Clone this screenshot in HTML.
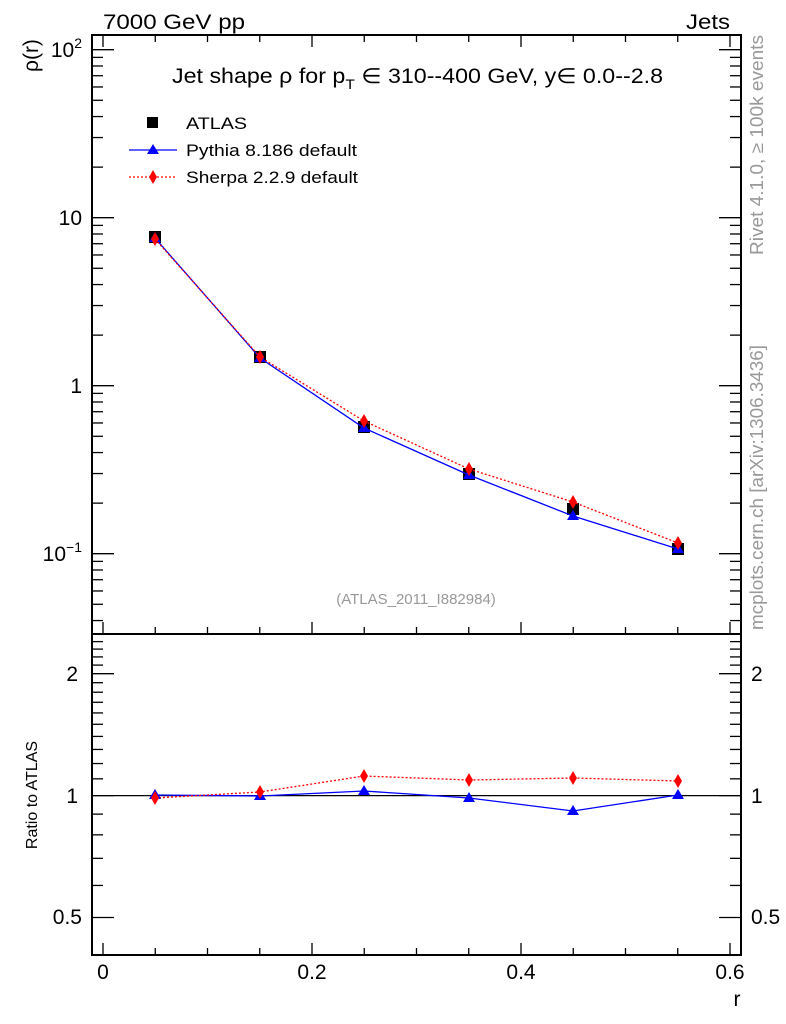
<!DOCTYPE html>
<html><head><meta charset="utf-8"><style>
html,body{margin:0;padding:0;background:#fff;}
svg{display:block;font-family:"Liberation Sans",sans-serif;}
</style></head><body>
<svg id="s" width="786" height="1024" viewBox="0 0 786 1024" xmlns="http://www.w3.org/2000/svg">
<rect width="786" height="1024" fill="#fff"/>
<g id="ticks" stroke="#000" stroke-width="1.3" fill="none"></g>
<rect x="92" y="35" width="649" height="920" fill="none" stroke="#000" stroke-width="2"/>
<line x1="92" y1="634" x2="741" y2="634" stroke="#000" stroke-width="2"/>
<line x1="92" y1="795.6" x2="741" y2="795.6" stroke="#000" stroke-width="1.2"/>
<text x="103" y="29" font-size="21" textLength="142" lengthAdjust="spacingAndGlyphs">7000 GeV pp</text>
<text x="686" y="29" font-size="21" textLength="44" lengthAdjust="spacingAndGlyphs">Jets</text>
<text font-size="21" transform="translate(38 72) rotate(-90)">ρ(r)</text>
<text x="172" y="83" font-size="21" textLength="491" lengthAdjust="spacingAndGlyphs">Jet shape ρ for p<tspan font-size="14" dy="6">T</tspan><tspan dy="-6"> ∈ 310--400 GeV, y∈ 0.0--2.8</tspan></text>
<rect x="147" y="117" width="11" height="11" fill="#000"/>
<text x="186" y="129" font-size="17" textLength="61" lengthAdjust="spacingAndGlyphs">ATLAS</text>
<line x1="129" y1="150" x2="177" y2="150" stroke="#00f" stroke-width="1.3"/>
<polygon points="153,144 159,154 147,154" fill="#00f"/>
<text x="186" y="156" font-size="17" textLength="171" lengthAdjust="spacingAndGlyphs">Pythia 8.186 default</text>
<line x1="129" y1="177" x2="177" y2="177" stroke="#f00" stroke-width="1.3" stroke-dasharray="2,2"/>
<polygon points="153,170 157,177 153,184 149,177" fill="#f00"/>
<text x="186" y="183" font-size="17" textLength="172" lengthAdjust="spacingAndGlyphs">Sherpa 2.2.9 default</text>
<text x="416" y="604" font-size="15" fill="#999" text-anchor="middle">(ATLAS_2011_I882984)</text>
<text font-size="18" fill="#999" transform="translate(763 255) rotate(-90)" textLength="220" lengthAdjust="spacingAndGlyphs">Rivet 4.1.0, ≥ 100k events</text>
<text font-size="18" fill="#999" transform="translate(763 630) rotate(-90)" textLength="285" lengthAdjust="spacingAndGlyphs">mcplots.cern.ch [arXiv:1306.3436]</text>
<g font-size="21">
<text x="82" y="57" text-anchor="end">10<tspan font-size="14" dy="-9">2</tspan></text>
<text x="82" y="225" text-anchor="end">10</text>
<text x="82" y="393" text-anchor="end">1</text>
<text x="82" y="561" text-anchor="end">10<tspan font-size="14" dy="-9">−1</tspan></text>
<text x="78" y="681" text-anchor="end">2</text>
<text x="78" y="803" text-anchor="end">1</text>
<text x="82" y="924" text-anchor="end">0.5</text>
<text x="751" y="681">2</text>
<text x="751" y="803">1</text>
<text x="751" y="924">0.5</text>
<text x="103" y="979" text-anchor="middle">0</text>
<text x="312" y="979" text-anchor="middle">0.2</text>
<text x="521" y="979" text-anchor="middle">0.4</text>
<text x="730" y="979" text-anchor="middle">0.6</text>
<text x="737" y="1006" text-anchor="middle">r</text>
</g>
<text font-size="16" transform="translate(37 795) rotate(-90)" text-anchor="middle">Ratio to ATLAS</text>
<g id="data"></g>
</svg>
<script>
var T=document.getElementById('ticks'),D=document.getElementById('data'),h='';
function L(a,b,c,d){h+='<line x1="'+a+'" y1="'+b+'" x2="'+c+'" y2="'+d+'"/>';}
for(var i=0;i<=12;i++){var x=103+i*0.05*1045,l=(i%4==0)?12:7;L(x,955,x,955-l);L(x,634,x,634-l);L(x,35,x,35+l);}
var yl=function(v){return 385.7-168*Math.log10(v);};
for(var e=-2;e<=2;e++)for(var m=1;m<10;m++){var y=yl(m*Math.pow(10,e));if(y<35||y>634)continue;var l=m==1?22:11;L(92,y,92+l,y);L(741,y,741-l,y);}
var yr=function(v){return 795.6-405*Math.log10(v);};
for(var v=0.4;v<=2.45;v+=0.1){var y=yr(v);if(y<634||y>955)continue;var mj=Math.abs(v-0.5)<0.01||Math.abs(v-1)<0.01||Math.abs(v-2)<0.01;var l=mj?22:11;L(92,y,92+l,y);L(741,y,741-l,y);}
T.innerHTML=h;
var X=[155,260,364,469,573,678];
var A=[237,357,427,474,509,549],P=[238,358,428,475,516,549],S=[239,357,421,469,502,543];
var RP=[795,796,791,798,811,795],RS=[798,792,776,780,778,781];
var g='';
function pl(Y,c,dash){g+='<polyline fill="none" stroke="'+c+'" stroke-width="1.3" '+(dash?'stroke-dasharray="2,2" ':'')+'points="'+X.map(function(x,i){return x+','+Y[i]}).join(' ')+'"/>';}
function tri(x,y,c){g+='<polygon fill="'+c+'" points="'+x+','+(y-6)+' '+(x+6)+','+(y+4)+' '+(x-6)+','+(y+4)+'"/>';}
function dia(x,y){g+='<polygon fill="#f00" points="'+x+','+(y-7)+' '+(x+4)+','+y+' '+x+','+(y+7)+' '+(x-4)+','+y+'"/>';}
for(var i=0;i<6;i++)g+='<rect x="'+(X[i]-6)+'" y="'+(A[i]-6)+'" width="12" height="12" fill="#000"/>';
pl(P,'#00f');pl(S,'#f00',1);pl(RP,'#00f');pl(RS,'#f00',1);
for(var i=0;i<6;i++){tri(X[i],P[i],'#00f');dia(X[i],S[i]);tri(X[i],RP[i],'#00f');dia(X[i],RS[i]);}
D.innerHTML=g;
</script>
</body></html>
